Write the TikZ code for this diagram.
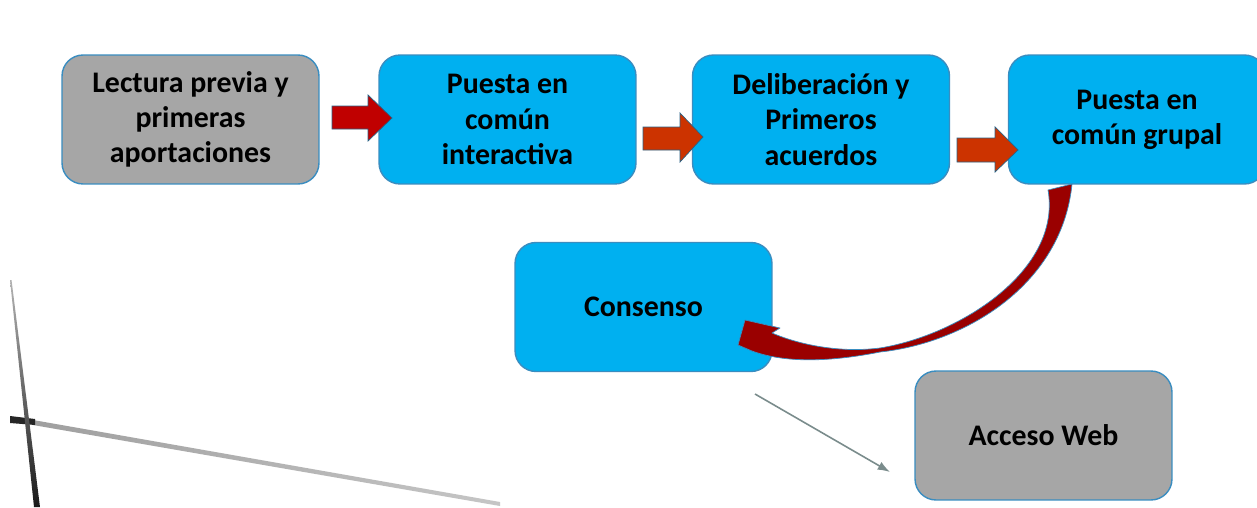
\documentclass[tikz,border=0pt]{standalone}
\usepackage{fontspec}
\setmainfont{Carlito}
\usetikzlibrary{arrows.meta}
\definecolor{boxblue}{HTML}{00B0F0}
\definecolor{boxgray}{HTML}{A6A6A6}
\definecolor{edgeblue}{HTML}{3A8DC0}
\definecolor{arrowred}{HTML}{C00000}
\definecolor{arroworange}{HTML}{CC3300}
\definecolor{curvered}{HTML}{9A0000}
\definecolor{linegray}{HTML}{7A8C8C}
\tikzset{
  box/.style={draw=edgeblue, line width=0.8pt, rounded corners=0.42cm,
    minimum width=5.14cm, minimum height=2.58cm, inner sep=0pt, align=center,
    font=\fontsize{17}{20}\selectfont\bfseries, text=black},
  bluebox/.style={box, fill=boxblue},
  graybox/.style={box, fill=boxgray},
  blockarrow/.style={draw=edgeblue!70!black, line width=0.4pt, line join=miter},
}
\begin{document}
\begin{tikzpicture}[x=0.02cm,y=-0.02cm]
\useasboundingbox (0,0) rectangle (1257,507);
\clip (0,0) rectangle (1257,507);
\fill[white] (0,0) rectangle (1257,507);
% background decoration
\shade[left color=gray!75, right color=gray!45] (33,420) -- (500,502) -- (500,506) -- (33,425) -- cycle;
\fill[black!85] (10,416) -- (35,419) -- (35,425) -- (10,423) -- cycle;
\shade[top color=gray!60, bottom color=black!90] (10,280) -- (11.5,280) -- (40,507) -- (34,507) -- cycle;
% boxes
\node[graybox] (b1) at (190.5,119.5) {Lectura previa y\\primeras\\aportaciones};
\node[bluebox] (b2) at (507.5,119.5) {Puesta en\\común\\interactiva};
\node[bluebox] (b3) at (821,119.5) {Deliberación y\\Primeros\\acuerdos};
\node[bluebox] (b4) at (1137,119.5) {Puesta en\\común grupal};
\node[bluebox] (b5) at (643.5,307) {Consenso};
\node[graybox] (b6) at (1043.5,435.5) {Acceso Web};
% block arrows
\filldraw[blockarrow, fill=arrowred] (332,106) -- (368,106) -- (368,95) -- (392,118) -- (368,141) -- (368,129) -- (332,129) -- cycle;
\filldraw[blockarrow, fill=arroworange] (643,127) -- (680,127) -- (680,113) -- (703,137) -- (680,162) -- (680,150) -- (643,150) -- cycle;
\filldraw[blockarrow, fill=arroworange] (957,138) -- (995,138) -- (995,127) -- (1018,150) -- (995,172) -- (995,162) -- (957,162) -- cycle;
% curved arrow from b4 to b5
\filldraw[draw=edgeblue, line width=0.4pt, fill=curvered, line join=round]
  (1048,190) .. controls (1062,270) and (960,335) .. (880,348)
  .. controls (840,353) and (800,345) .. (772,333)
  -- (780,328) -- (745,320) -- (738,345) -- (752,351)
  .. controls (790,365) and (840,360) .. (880,352)
  .. controls (965,343) and (1062,285) .. (1072,184)
  -- cycle;
% thin connector
\coordinate (c1) at (755,394);
\coordinate (c2) at (890,472);
\draw[linegray, line width=0.9pt, -{Latex[length=7pt,width=5pt]}] (c1) -- (c2);
\end{tikzpicture}
\end{document}
